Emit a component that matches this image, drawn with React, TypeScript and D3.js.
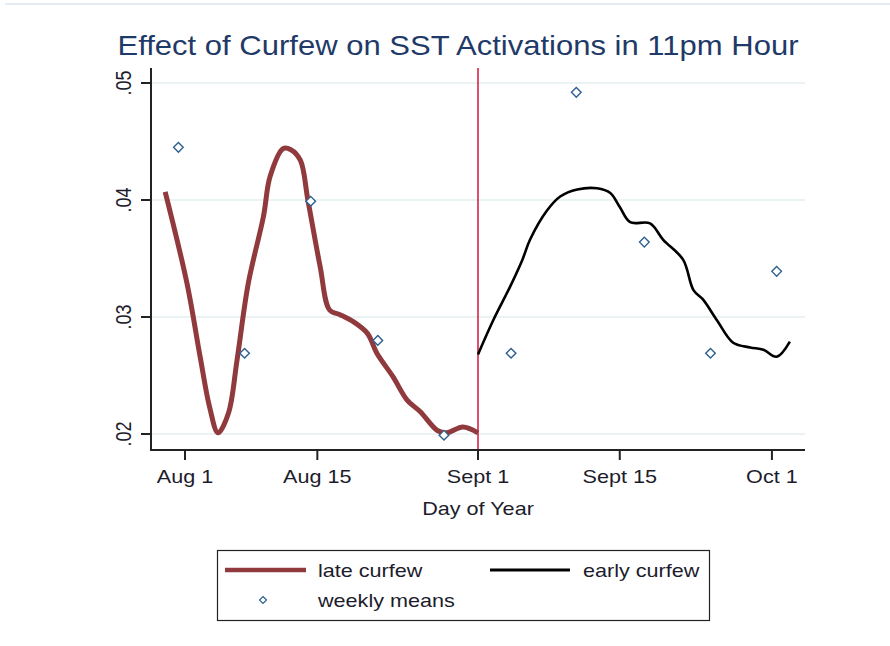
import React from 'react';
import * as d3 from 'd3';

// days are counted from Aug 1 (= 0)
const lateDays = [-2.1, 0.2, 1.6, 2.6, 3.5, 4.6, 5.5, 6.7, 8.3, 9.0, 10.4, 11.2, 12.2, 13.0, 14.3, 15.3, 16.4, 17.8, 19.3, 20.3, 22.0, 23.5, 24.9, 26.7, 27.7, 29.4, 31.0];
const lateVals = [0.0407, 0.0329, 0.0266, 0.0223, 0.0201, 0.0218, 0.0263, 0.0329, 0.0386, 0.042, 0.0444, 0.0443, 0.0434, 0.04, 0.0343, 0.0306, 0.0302, 0.0296, 0.0286, 0.0269, 0.0249, 0.0229, 0.0219, 0.0203, 0.0201, 0.0206, 0.0201];

const earlyDays = [31.0, 32.6, 34.4, 35.7, 36.5, 38.3, 39.7, 41.5, 43.6, 45.0, 46.0, 47.1, 49.2, 50.6, 52.7, 53.8, 54.8, 56.3, 58.0, 59.8, 61.2, 62.6, 64.0];
const earlyVals = [0.0268, 0.0297, 0.0326, 0.0349, 0.0366, 0.0391, 0.0403, 0.0409, 0.041, 0.0406, 0.0394, 0.0381, 0.038, 0.0366, 0.0349, 0.0323, 0.0315, 0.0297, 0.0278, 0.0274, 0.0272, 0.0266, 0.0279];

const weekDays = [-0.7, 6.3, 13.3, 20.4, 27.4, 34.5, 41.4, 48.6, 55.6, 62.6];
const weekVals = [0.0445, 0.0269, 0.0399, 0.028, 0.0199, 0.0269, 0.0492, 0.0364, 0.0269, 0.0339];

const xTickDays = [0, 14, 31, 46, 62.1];
const xTickLabels = ['Aug 1', 'Aug 15', 'Sept 1', 'Sept 15', 'Oct 1'];
const yTicks = [0.02, 0.03, 0.04, 0.05];
const yTickLabels = ['.02', '.03', '.04', '.05'];
const curfewChangeDay = 31;

const W = 890, H = 646;
const FONT = "'Liberation Sans', Arial, sans-serif";
const TXT = '#1c1c2c';
const SX = 1.2;

const Label = ({ x, y, children, anchor = 'middle', size = 18, rotate = 0, fill = TXT }) => (
  <g transform={`translate(${x},${y}) scale(${SX},1) rotate(${rotate})`}>
    <text textAnchor={anchor} fontSize={size} fontFamily={FONT} fill={fill}>{children}</text>
  </g>
);

const diamond = (cx, cy, r) => `M${cx},${cy - r}L${cx + r},${cy}L${cx},${cy + r}L${cx - r},${cy}Z`;

export default function App() {
  const x = d3.scaleLinear().domain([-3.6, 65.6]).range([151, 805]);
  const y = d3.scaleLinear().domain([0.02, 0.05]).range([434, 83]);
  const top = 68, bottom = 450;

  const line = d3.line<[number, number]>()
    .x(d => x(d[0]))
    .y(d => y(d[1]))
    .curve(d3.curveCatmullRom.alpha(0.5));

  const late = lateDays.map((d, i) => [d, lateVals[i]] as [number, number]);
  const early = earlyDays.map((d, i) => [d, earlyVals[i]] as [number, number]);

  return (
    <svg width={W} height={H} style={{ position: 'absolute', left: 0, top: 0, background: '#fff' }}>
      <line x1={5} x2={W} y1={4} y2={4} stroke="#e6edf0" strokeWidth={2} />
      <text x={458} y={55} textAnchor="middle" fontSize={28} fontFamily={FONT} fill="#1f3a68"
        textLength={681} lengthAdjust="spacingAndGlyphs">
        Effect of Curfew on SST Activations in 11pm Hour
      </text>

      {/* grid */}
      {yTicks.map(t => (
        <line key={t} x1={x.range()[0]} x2={x.range()[1]} y1={y(t)} y2={y(t)} stroke="#eaf2f3" strokeWidth={2} />
      ))}

      {/* curfew change */}
      <line x1={x(curfewChangeDay)} x2={x(curfewChangeDay)} y1={top} y2={bottom} stroke="#d4143c" strokeWidth={1.5} />

      <path d={line(late)} fill="none" stroke="#903a3d" strokeWidth={5} strokeLinejoin="round" strokeLinecap="butt" />
      <path d={line(early)} fill="none" stroke="#000" strokeWidth={2.6} strokeLinejoin="round" />

      {weekDays.map((d, i) => (
        <path key={i} d={diamond(x(d), y(weekVals[i]), 4.8)} fill="#fff" stroke="#2d5f8f" strokeWidth={1.4} />
      ))}

      {/* y axis */}
      <line x1={151} x2={151} y1={top} y2={bottom + 1} stroke="#222" strokeWidth={2} />
      {yTicks.map((t, i) => (
        <g key={t}>
          <line x1={141} x2={151} y1={y(t)} y2={y(t)} stroke="#222" strokeWidth={2} />
          <Label x={131} y={y(t)} rotate={-90}>{yTickLabels[i]}</Label>
        </g>
      ))}

      {/* x axis */}
      <line x1={150} x2={805} y1={bottom} y2={bottom} stroke="#222" strokeWidth={2} />
      {xTickDays.map((d, i) => (
        <g key={d}>
          <line x1={x(d)} x2={x(d)} y1={bottom} y2={bottom + 10} stroke="#222" strokeWidth={2} />
          <Label x={x(d)} y={483}>{xTickLabels[i]}</Label>
        </g>
      ))}
      <Label x={478} y={515}>Day of Year</Label>

      {/* legend */}
      <rect x={217.5} y={550.5} width={492} height={70} fill="#fff" stroke="#222" strokeWidth={1.2} />
      <line x1={225} x2={306} y1={570} y2={570} stroke="#903a3d" strokeWidth={4.5} />
      <Label x={318} y={577} anchor="start">late curfew</Label>
      <line x1={490} x2={570} y1={570} y2={570} stroke="#000" strokeWidth={3} />
      <Label x={583} y={577} anchor="start">early curfew</Label>
      <path d={diamond(263, 600, 3.5)} fill="#fff" stroke="#2d5f8f" strokeWidth={1.2} />
      <Label x={318} y={607} anchor="start">weekly means</Label>
    </svg>
  );
}
